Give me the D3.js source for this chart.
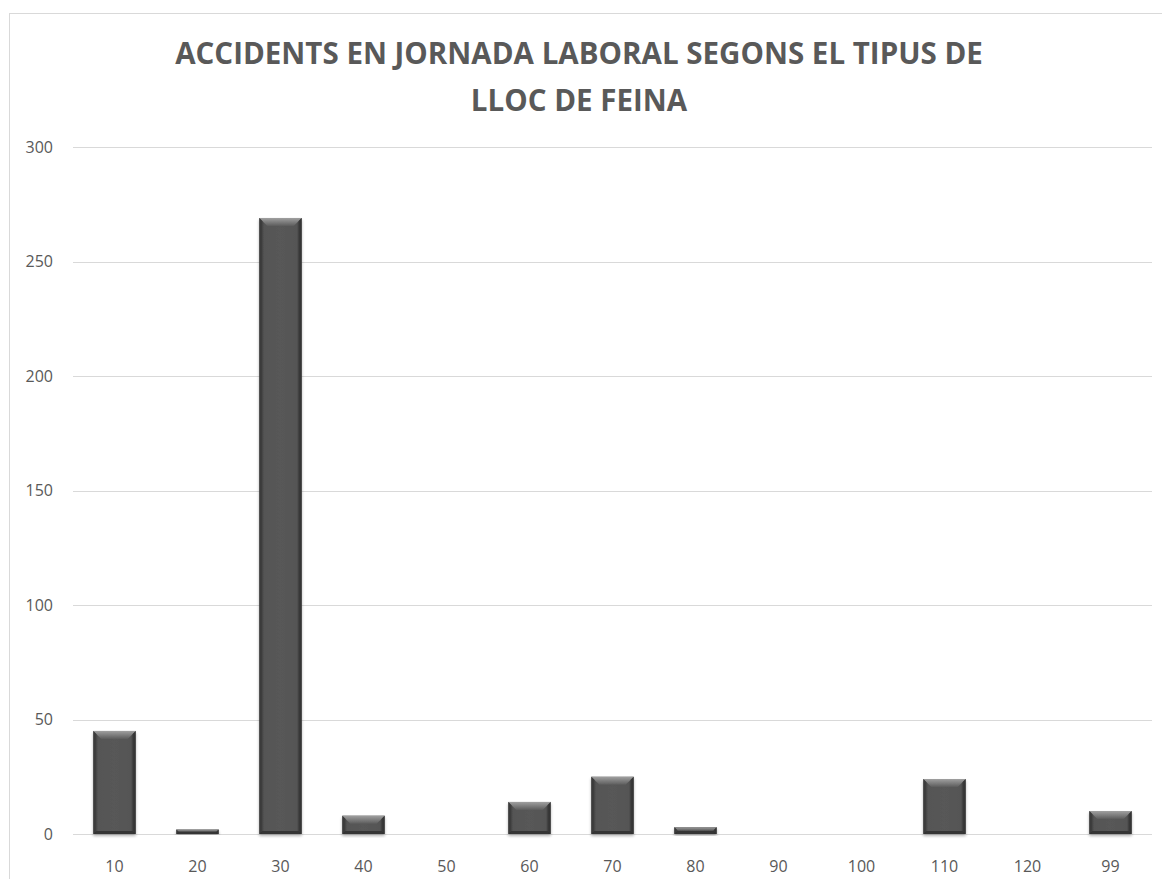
<!DOCTYPE html>
<html><head><meta charset="utf-8">
<script src="https://cdn.jsdelivr.net/npm/d3@7"></script>
<style>body{margin:0;background:#fff}svg{display:block}</style>
</head><body>
<script>
const categories = ["10","20","30","40","50","60","70","80","90","100","110","120","99"];
const values = [45, 2, 269, 8, 0, 14, 25, 3, 0, 0, 24, 0, 10];
const yTicks = [0, 50, 100, 150, 200, 250, 300];
const titleLines = ["ACCIDENTS EN JORNADA LABORAL SEGONS EL TIPUS DE", "LLOC DE FEINA"];

const W = 1162, H = 879;
const svg = d3.select("body").append("svg").attr("width", W).attr("height", H);
const defs = svg.append("defs");

const body = defs.append("linearGradient").attr("id","gBody").attr("x1",0).attr("x2",1).attr("y1",0).attr("y2",0);
body.append("stop").attr("offset","0%").attr("stop-color","#3c3c3c");
body.append("stop").attr("offset","12%").attr("stop-color","#555555");
body.append("stop").attr("offset","50%").attr("stop-color","#585858");
body.append("stop").attr("offset","88%").attr("stop-color","#555555");
body.append("stop").attr("offset","100%").attr("stop-color","#3a3a3a");

const topG = defs.append("linearGradient").attr("id","gTop").attr("x1",0).attr("x2",0).attr("y1",0).attr("y2",1);
topG.append("stop").attr("offset","0%").attr("stop-color","#a0a0a0");
topG.append("stop").attr("offset","100%").attr("stop-color","#5c5c5c");

const shadow = defs.append("filter").attr("id","shadow").attr("x","-20%").attr("y","-20%").attr("width","140%").attr("height","140%");
shadow.append("feGaussianBlur").attr("in","SourceAlpha").attr("stdDeviation",1.5);
shadow.append("feOffset").attr("dx",0).attr("dy",2).attr("result","ob");
shadow.append("feComponentTransfer").append("feFuncA").attr("type","linear").attr("slope",0.3);
const fm = shadow.append("feMerge"); fm.append("feMergeNode"); fm.append("feMergeNode").attr("in","SourceGraphic");

const FONT = "'Open Sans', 'Liberation Sans', sans-serif";

// chart border
svg.append("rect").attr("x",9.5).attr("y",13.5).attr("width",1160).attr("height",900)
  .attr("fill","none").attr("stroke","#d9d9d9").attr("stroke-width",1);

const x = d3.scaleBand().domain(categories).range([73, 1152]).paddingInner(0.49).paddingOuter(0.245);
const y = d3.scaleLinear().domain([0, 300]).range([834, 147]);

// gridlines
svg.append("g").selectAll("line").data(yTicks).join("line")
  .attr("x1",73).attr("x2",1152).attr("y1",d=>Math.round(y(d))+0.5).attr("y2",d=>Math.round(y(d))+0.5)
  .attr("stroke","#d9d9d9").attr("stroke-width",1);

// y labels
svg.append("g").selectAll("text").data(yTicks).join("text")
  .attr("x",53).attr("y",d=>y(d)).attr("dy","0.35em").attr("text-anchor","end")
  .attr("font-family",FONT).attr("font-size",16).attr("fill","#595959")
  .text(d=>d);

// x labels
svg.append("g").selectAll("text").data(categories).join("text")
  .attr("x",d=>x(d)+x.bandwidth()/2).attr("y",866).attr("dy","0.35em").attr("text-anchor","middle")
  .attr("font-family",FONT).attr("font-size",16).attr("fill","#595959")
  .text(d=>d);

// bars
const data = categories.map((c,i)=>({c, v: values[i]})).filter(d=>d.v>0);
const bars = svg.append("g").selectAll("g").data(data).join("g").attr("filter","url(#shadow)");
bars.each(function(d){
  const g = d3.select(this);
  const x0 = x(d.c), w = x.bandwidth(), x1 = x0 + w;
  const y0 = y(d.v), y1 = y(0), h = y1 - y0;
  const b = Math.min(8, h/2), s = Math.min(3, h/2);
  g.append("rect").attr("x",x0).attr("y",y0).attr("width",w).attr("height",h).attr("fill","url(#gBody)");
  g.append("path").attr("d",`M${x0},${y0}L${x1},${y0}L${x1-b},${y0+b}L${x0+b},${y0+b}Z`).attr("fill","url(#gTop)");
  g.append("path").attr("d",`M${x0},${y0}L${x0+s},${y0+s}L${x0+s},${y1-s}L${x0},${y1}Z`).attr("fill","#3a3a3a").attr("opacity",0.8);
  g.append("path").attr("d",`M${x1},${y0}L${x1-s},${y0+s}L${x1-s},${y1-s}L${x1},${y1}Z`).attr("fill","#333").attr("opacity",0.8);
  g.append("path").attr("d",`M${x0},${y1}L${x0+s},${y1-s}L${x1-s},${y1-s}L${x1},${y1}Z`).attr("fill","#2e2e2e").attr("opacity",0.8);
});

// title (horizontally condensed to mimic the narrow original face)
const title = svg.append("g");
const baselines = [64, 111];
const tEls = titleLines.map((t,i)=> title.append("text").attr("x",0).attr("y",baselines[i]).attr("text-anchor","middle")
    .attr("font-family",FONT).attr("font-weight","bold")
    .attr("font-size",31).attr("fill","#595959").text(t));
const len = tEls[0].node().getComputedTextLength();
const k = 808 / len;
tEls.forEach(el => el.attr("transform", `translate(579,0) scale(${k},1)`));
</script>
</body></html>
